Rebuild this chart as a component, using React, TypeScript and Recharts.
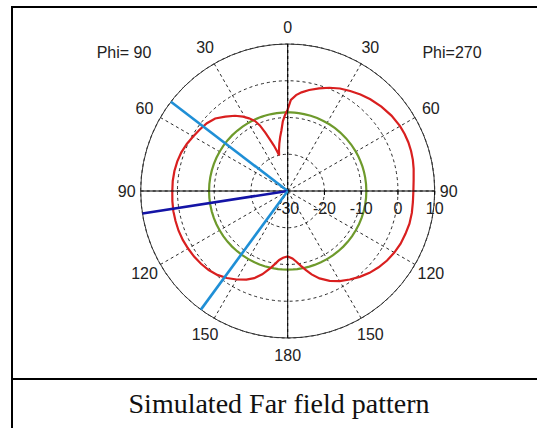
import React from 'react';
import { RadarChart, Radar, PolarGrid, PolarAngleAxis, PolarRadiusAxis } from 'recharts';

// Polar angle measured anticlockwise from the top of the plot.
// Left half: Phi = 90 cut (theta = angle). Right half: Phi = 270 cut (theta = 360 - angle).
const ANGLES = [
  0, 2, 4, 6, 8, 10, 12, 13.5, 15, 17, 19, 21, 23, 25, 28, 31, 35, 40, 45, 50, 55, 60, 65, 70, 75, 80, 85,
  90, 95, 100, 105, 110, 115, 120, 125, 130, 135, 140, 145, 150, 155, 159, 163, 167, 170, 173, 176, 180,
  184, 187, 190, 193, 196, 200, 205, 210, 215, 220, 225, 230, 235, 240, 245, 250, 255, 260, 265, 270,
  275, 280, 284, 288, 292, 296, 300, 306, 312, 318, 323, 328, 333, 338, 343, 348, 352, 355, 358,
];

// Gain in dB along each cut (red trace)
const RED_DB = [
  -7.8, -9.3, -11.0, -13.5, -15.2, -16.9, -18.6, -20.0, -18.8, -17.0, -15.2, -13.0, -10.6, -9.0, -7.6,
  -6.4, -5.0, -3.6, -2.1, -1.3, -0.8, -0.3, 0.3, 0.8, 1.1, 1.3, 1.4, 1.4, 1.5, 1.6, 1.6, 1.6, 1.5, 1.3,
  1.1, 0.8, 0.4, -0.2, -1.1, -2.2, -3.4, -4.6, -6.3, -8.3, -9.8, -11.1, -11.8, -12.2,
  -11.6, -10.6, -9.3, -7.9, -6.4, -4.7, -3.0, -1.7, -0.6, 0.5, 1.5, 2.3, 3.0, 3.5, 3.9, 4.1, 4.3, 4.3,
  4.2, 4.2, 4.4, 4.8, 5.1, 5.3, 5.4, 5.4, 5.3, 4.9, 4.3, 3.6, 2.9, 2.1, 1.3, 0.3, -0.8, -1.9, -2.9, -3.8,
  -5.2,
];

// Reference level trace (green)
const GREEN_DB = [
  -8.6, -8.6, -8.6, -8.6, -8.6, -8.6, -8.6, -8.6, -8.6, -8.6, -8.6, -8.6, -8.6, -8.6, -8.6, -8.6, -8.6,
  -8.6, -8.6, -8.6, -8.6, -8.6, -8.6, -8.6, -8.6, -8.6, -8.6, -8.6, -8.6, -8.6, -8.6, -8.6, -8.6, -8.6,
  -8.6, -8.6, -8.6, -8.6, -8.6, -8.6, -8.6, -8.6, -8.6, -8.6, -8.6, -8.6, -8.6, -8.6,
  -8.6, -8.6, -8.6, -8.6, -8.6, -8.6, -8.6, -8.6, -8.6, -8.6, -8.6, -8.6, -8.6, -8.6, -8.6, -8.6, -8.6,
  -8.6, -8.6, -8.6, -8.6, -8.6, -8.6, -8.6, -8.6, -8.6, -8.6, -8.6, -8.6, -8.6, -8.6, -8.6, -8.6, -8.6,
  -8.6, -8.6, -8.6, -8.6, -8.6,
];

// Main lobe direction and 3 dB beamwidth limits (theta on the Phi = 90 side)
const BEAM_THETA = [52.6, 98.8, 143.8];
const BEAM_COLORS = ['#1f8fd6', '#1414a6', '#1f8fd6'];

const RADIUS_DOMAIN: [number, number] = [-30, 10];
const ANGLE_DOMAIN: [number, number] = [0, 360];
const CUT_LABELS = ['Phi= 90', 'Phi=270'];
const CAPTION = 'Simulated Far field pattern';

const START_ANGLE = 90;
const LABEL_FONT = '"Liberation Sans", Arial, sans-serif';

// Solid reference axes through the centre (top, left, bottom)
const AXIS_ANGLES = [90, 180, 270];

const data = ANGLES.map((a, i) => ({ a, red: RED_DB[i], green: GREEN_DB[i] }));

function AngleTick(props: any) {
  const { x, y, payload } = props;
  const ang = (payload.coordinate * Math.PI) / 180;
  const s = Math.abs(Math.sin(ang));
  const extra = 6 + 5 * Math.abs(Math.sin(2 * ang)) + (s > 0.95 ? 3 : 0);
  const tx = x + Math.cos(ang) * extra;
  const ty = y - Math.sin(ang) * extra;
  const v = ((payload.value % 360) + 360) % 360;
  const label = v <= 180 ? v : 360 - v;
  return (
    <text x={tx} y={ty} textAnchor="middle" dominantBaseline="central" fontFamily={LABEL_FONT} fontSize={16} fill="#222">
      {label}
    </text>
  );
}

function RadiusTick(props: any) {
  const { x, y, payload } = props;
  return (
    <g>
      <line x1={x} y1={y} x2={x} y2={y + 4} stroke="#000" strokeWidth={1} />
      <text x={x} y={y + 17} textAnchor="middle" dominantBaseline="central" fontFamily={LABEL_FONT} fontSize={16} fill="#222">
        {payload.value}
      </text>
    </g>
  );
}

export default function App() {
  return (
    <div style={{ position: 'absolute', left: 0, top: 0, width: 537, height: 428, background: '#fff', overflow: 'hidden' }}>
      <svg width={537} height={428} style={{ position: 'absolute', left: 0, top: 0 }}>
        <line x1={12} y1={6} x2={12} y2={428} stroke="#000" strokeWidth={2} />
        <line x1={11} y1={7} x2={537} y2={7} stroke="#000" strokeWidth={2} />
        <line x1={11} y1={379} x2={537} y2={379} stroke="#000" strokeWidth={2} />
        <text x={124} y={52} textAnchor="middle" dominantBaseline="central" fontFamily={LABEL_FONT} fontSize={16} fill="#222">
          {CUT_LABELS[0]}
        </text>
        <text x={452} y={52} textAnchor="middle" dominantBaseline="central" fontFamily={LABEL_FONT} fontSize={16} fill="#222">
          {CUT_LABELS[1]}
        </text>
        <text x={279} y={413} textAnchor="middle" fontFamily='"Liberation Serif", "Times New Roman", serif' fontSize={28} fill="#111">
          {CAPTION}
        </text>
      </svg>
      <div style={{ position: 'absolute', left: 0, top: 0 }}>
        <RadarChart
          width={537}
          height={378}
          data={data}
          cx={287.7}
          cy={191}
          innerRadius={0}
          outerRadius={147}
          startAngle={START_ANGLE}
          endAngle={START_ANGLE + 360}
          margin={{ top: 0, right: 0, bottom: 0, left: 0 }}
        >
          <PolarGrid gridType="circle" stroke="#111" strokeWidth={0.9} strokeDasharray="3 3" />
          <PolarAngleAxis
            dataKey="a"
            type="number"
            domain={ANGLE_DOMAIN}
            tickCount={13}
            tick={AngleTick}
            tickLine={false}
            axisLineType="circle"
            axisLine={{ stroke: '#333', strokeWidth: 1 }}
          />
          <PolarRadiusAxis
            radiusAxisId={0}
            angle={0}
            type="number"
            domain={RADIUS_DOMAIN}
            allowDataOverflow
            tickCount={5}
            tick={RadiusTick}
            axisLine={{ stroke: '#000', strokeWidth: 1 }}
          />
          {AXIS_ANGLES.map((ang) => (
            <PolarRadiusAxis
              key={`axis-${ang}`}
              radiusAxisId={`axis-${ang}`}
              angle={ang}
              type="number"
              domain={RADIUS_DOMAIN}
              allowDataOverflow
              tickCount={5}
              tick={false}
              axisLine={{ stroke: '#000', strokeWidth: 1 }}
            />
          ))}
          <Radar dataKey="green" stroke="#6e9a2c" strokeWidth={2.2} fill="none" fillOpacity={0} isAnimationActive={false} dot={false} />
          <Radar dataKey="red" stroke="#d91f1f" strokeWidth={2.2} fill="none" fillOpacity={0} isAnimationActive={false} dot={false} />
          {BEAM_THETA.map((t, i) => (
            <PolarRadiusAxis
              key={`beam-${i}`}
              radiusAxisId={`beam-${i}`}
              angle={START_ANGLE + t}
              type="number"
              domain={RADIUS_DOMAIN}
              allowDataOverflow
              tickCount={5}
              tick={false}
              axisLine={{ stroke: BEAM_COLORS[i], strokeWidth: 2.6 }}
            />
          ))}
        </RadarChart>
      </div>
    </div>
  );
}
